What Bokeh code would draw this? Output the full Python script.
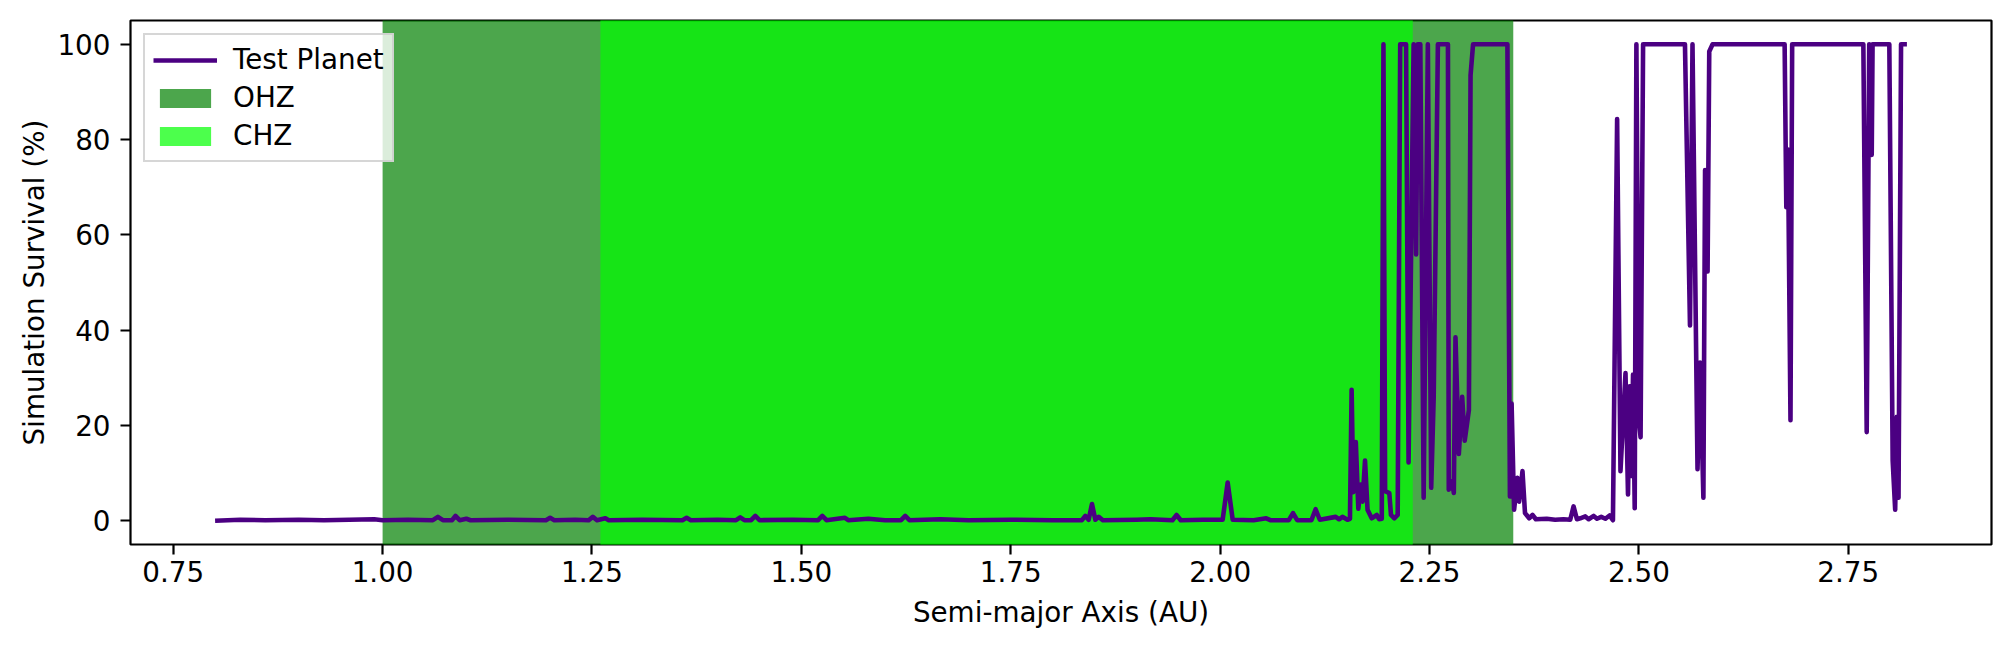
from bokeh.plotting import figure
from bokeh.models import (ColumnDataSource, Range1d, FixedTicker, PrintfTickFormatter,
                          Legend, LegendItem)
from bokeh.embed import file_html
from bokeh.resources import INLINE

# ---------------- data ----------------
semi_major_axis = [
    0.800, 0.830, 0.860, 0.900, 0.930, 0.960, 0.990, 1.000, 1.030, 1.060,
    1.066, 1.072, 1.083, 1.087, 1.092, 1.100, 1.105, 1.150, 1.195, 1.200,
    1.205, 1.230, 1.246, 1.251, 1.256, 1.266, 1.270, 1.310, 1.358, 1.363,
    1.368, 1.400, 1.422, 1.427, 1.432, 1.440, 1.445, 1.450, 1.490, 1.520,
    1.525, 1.530, 1.552, 1.556, 1.580, 1.600, 1.619, 1.624, 1.629, 1.666,
    1.700, 1.750, 1.800, 1.835, 1.839, 1.843, 1.847, 1.851, 1.855, 1.860,
    1.900, 1.917, 1.943, 1.948, 1.953, 1.980, 2.003, 2.009, 2.015, 2.040,
    2.055, 2.060, 2.082, 2.087, 2.092, 2.109, 2.114, 2.119, 2.138, 2.142,
    2.146, 2.152, 2.155, 2.157, 2.159, 2.162, 2.165, 2.168, 2.170, 2.173,
    2.176, 2.181, 2.187, 2.190, 2.193,
    2.195, 2.197, 2.202, 2.204, 2.208, 2.212, 2.215, 2.222, 2.225, 2.231,
    2.234, 2.236, 2.239, 2.243, 2.248, 2.252, 2.255, 2.260, 2.272, 2.273,
    2.277, 2.279, 2.281, 2.285, 2.289, 2.292, 2.297, 2.299, 2.302, 2.343,
    2.346, 2.348, 2.351, 2.355, 2.357, 2.361, 2.364, 2.369, 2.373, 2.377,
    2.390, 2.400, 2.410, 2.418, 2.422, 2.426, 2.430, 2.436, 2.440, 2.446,
    2.450, 2.455, 2.460, 2.465, 2.469, 2.474, 2.478, 2.484, 2.487, 2.489,
    2.491, 2.493, 2.495, 2.497, 2.500, 2.502, 2.505, 2.555, 2.561, 2.564,
    2.570, 2.573, 2.577, 2.579, 2.582, 2.584, 2.588, 2.674, 2.676, 2.678,
    2.681, 2.683, 2.768, 2.772, 2.775, 2.778, 2.779, 2.799, 2.803, 2.806,
    2.808, 2.810, 2.813, 2.820,
]
survival_pct = [
    0.0, 0.2, 0.1, 0.2, 0.1, 0.2, 0.3, 0.1, 0.2, 0.1,
    0.8, 0.1, 0.1, 1.0, 0.1, 0.4, 0.1, 0.2, 0.1, 0.6,
    0.1, 0.2, 0.1, 0.8, 0.1, 0.5, 0.1, 0.2, 0.1, 0.6,
    0.1, 0.2, 0.1, 0.7, 0.1, 0.1, 1.0, 0.1, 0.2, 0.1,
    1.0, 0.1, 0.6, 0.1, 0.4, 0.1, 0.1, 1.0, 0.1, 0.3,
    0.1, 0.2, 0.1, 0.1, 1.0, 0.2, 3.5, 0.2, 0.8, 0.1,
    0.2, 0.3, 0.1, 1.2, 0.1, 0.2, 0.2, 8.0, 0.2, 0.1,
    0.5, 0.1, 0.1, 1.6, 0.1, 0.1, 2.4, 0.2, 0.8, 0.3,
    0.8, 0.2, 0.4, 27.5, 6.0, 16.5, 2.5, 7.6, 4.0, 12.6,
    2.3, 0.5, 1.2, 0.3, 0.4,
    100, 6.2, 5.8, 1.2, 0.5, 1.2, 100, 100, 12.2, 100,
    55.9, 100, 100, 4.8, 100, 6.9, 26.0, 100, 100, 6.5,
    8.3, 5.8, 38.5, 14.0, 26.0, 16.8, 23.2, 93.5, 100, 100,
    5.1, 24.6, 2.3, 9.0, 4.0, 10.4, 1.6, 0.5, 1.2, 0.3,
    0.4, 0.2, 0.3, 0.2, 3.0, 0.3, 0.5, 0.9, 0.3, 1.0,
    0.4, 0.8, 0.4, 1.1, 0.1, 84.3, 10.4, 31.0, 5.5, 28.2,
    9.4, 30.7, 2.6, 100, 21.1, 17.5, 100, 100, 41.0, 100,
    10.8, 33.2, 4.8, 73.6, 52.3, 98.5, 100, 100, 65.8, 77.9,
    21.1, 100, 100, 18.6, 100, 76.8, 100, 100, 12.6, 2.3,
    21.8, 4.8, 100, 100,
]
ohz_bounds = [1.00, 2.35]   # optimistic habitable zone (AU)
chz_bounds = [1.26, 2.23]   # conservative habitable zone (AU)
x_ticks = [0.75, 1.00, 1.25, 1.50, 1.75, 2.00, 2.25, 2.50, 2.75]
y_ticks = [0, 20, 40, 60, 80, 100]
x_lo, x_hi = 0.699, 2.921
y_lo, y_hi = -5, 105

FONT = "DejaVu Sans"
FS = "27.8px"

p = figure(width=2000, height=640, output_backend="svg", toolbar_location=None,
           x_range=Range1d(x_lo, x_hi), y_range=Range1d(y_lo, y_hi),
           min_border_left=130, min_border_right=9, min_border_top=20,
           min_border_bottom=96)
p.background_fill_color = "white"
p.border_fill_color = "white"
p.grid.visible = False
p.outline_line_color = "black"
p.outline_line_width = 2.2
p.outline_line_alpha = 1.0

ohz = p.quad(left=[ohz_bounds[0]], right=[ohz_bounds[1]], bottom=[y_lo - 10], top=[y_hi + 10],
             fill_color="#008000", fill_alpha=0.7, line_color=None)
chz = p.quad(left=[chz_bounds[0]], right=[chz_bounds[1]], bottom=[y_lo - 10], top=[y_hi + 10],
             fill_color="#00ff00", fill_alpha=0.7, line_color=None)
src = ColumnDataSource(dict(a=semi_major_axis, s=survival_pct))
ln = p.line("a", "s", source=src, line_color="#4b0082", line_width=4.6, line_join="round")

for ax in (p.xaxis[0], p.yaxis[0]):
    ax.axis_line_color = None
    ax.major_tick_line_color = "black"
    ax.major_tick_line_width = 2.2
    ax.major_tick_out = 10
    ax.major_tick_in = 0
    ax.minor_tick_line_color = None
    ax.major_label_text_font = FONT
    ax.major_label_text_font_size = FS
    ax.major_label_text_color = "black"
    ax.axis_label_text_font = FONT
    ax.axis_label_text_font_size = FS
    ax.axis_label_text_font_style = "normal"
    ax.axis_label_text_color = "black"

p.xaxis[0].ticker = FixedTicker(ticks=x_ticks)
p.xaxis[0].formatter = PrintfTickFormatter(format="%.2f")
p.xaxis[0].axis_label = "Semi-major Axis (AU)"
p.xaxis[0].major_label_standoff = 6
p.xaxis[0].axis_label_standoff = 11

p.yaxis[0].ticker = FixedTicker(ticks=y_ticks)
p.yaxis[0].formatter = PrintfTickFormatter(format="%d")
p.yaxis[0].axis_label = "Simulation Survival (%)"
p.yaxis[0].major_label_standoff = 10
p.yaxis[0].axis_label_standoff = 3

legend = Legend(items=[LegendItem(label="Test Planet", renderers=[ln]),
                       LegendItem(label="OHZ", renderers=[ohz]),
                       LegendItem(label="CHZ", renderers=[chz])],
                location="top_left")
legend.margin = 13
legend.padding = 8
legend.spacing = 5
legend.glyph_width = 64
legend.glyph_height = 24
legend.label_standoff = 16
legend.label_text_font = FONT
legend.label_text_font_size = FS
legend.label_text_color = "black"
legend.background_fill_color = "white"
legend.background_fill_alpha = 0.8
legend.border_line_color = "#cccccc"
legend.border_line_alpha = 0.8
legend.border_line_width = 2.8
p.add_layout(legend)

open("out.html", "w").write(file_html(p, INLINE))
